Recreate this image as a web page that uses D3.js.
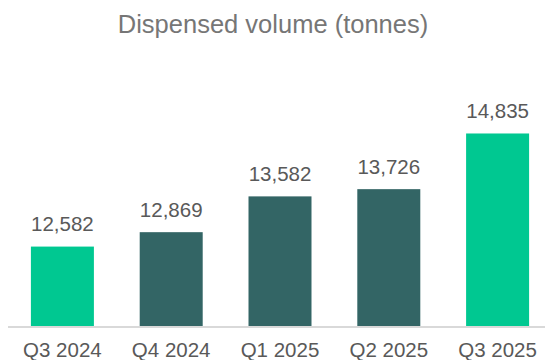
<!DOCTYPE html>
<html>
<head>
<meta charset="utf-8">
<script src="https://cdn.jsdelivr.net/npm/d3@7"></script>
<style>
  html, body { margin: 0; padding: 0; background: #fff; }
  svg { display: block; font-family: "Liberation Sans", Arial, sans-serif; }
</style>
</head>
<body>
<svg id="chart" width="545" height="360"></svg>
<script>
const categories = ["Q3 2024", "Q4 2024", "Q1 2025", "Q2 2025", "Q3 2025"];
const values = [12582, 12869, 13582, 13726, 14835];
const highlight = [true, false, false, false, true];
const yDomain = [11000, 16000];
const title = "Dispensed volume (tonnes)";

const svg = d3.select("#chart");
const W = 545, H = 360;

const x = d3.scaleBand().domain(categories).range([8, 552]).paddingInner(0.421).paddingOuter(0.2105);
const y = d3.scaleLinear().domain(yDomain).range([326, 75]);

const data = categories.map((c, i) => ({ c, v: values[i], h: highlight[i] }));

svg.append("text")
  .attr("x", 273).attr("y", 32.5)
  .attr("text-anchor", "middle")
  .attr("font-size", "25.5px")
  .attr("fill", "#767676")
  .text(title);

svg.append("g").selectAll("rect").data(data).join("rect")
  .attr("x", d => x(d.c))
  .attr("width", x.bandwidth())
  .attr("y", d => y(d.v))
  .attr("height", d => y(yDomain[0]) - y(d.v))
  .attr("fill", d => d.h ? "#00c891" : "#336565");

// baseline axis
const xAxis = d3.axisBottom(x).tickSize(0).tickPadding(0);
const ax = svg.append("g").attr("transform", "translate(0,327)").call(xAxis);
ax.select(".domain").attr("d", "M8,0H545").attr("stroke", "#d9d9d9").attr("stroke-width", 2);
ax.selectAll("text")
  .attr("y", 30.3).attr("dy", null)
  .attr("font-size", "20.5px")
  .attr("font-family", "'Liberation Sans', Arial, sans-serif")
  .attr("fill", "#595959");

svg.append("g").selectAll("text").data(data).join("text")
  .attr("x", d => x(d.c) + x.bandwidth() / 2)
  .attr("y", d => y(d.v) - 15.5)
  .attr("text-anchor", "middle")
  .attr("font-size", "20.5px")
  .attr("fill", "#595959")
  .text(d => d3.format(",")(d.v));
</script>
</body>
</html>
